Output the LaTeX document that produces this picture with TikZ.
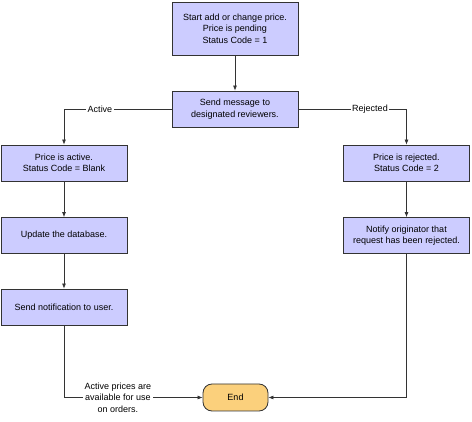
\documentclass[tikz,border=0pt]{standalone}
\usepackage{fontspec}
\setmainfont{Liberation Sans}
\usetikzlibrary{arrows.meta}

\definecolor{boxfill}{HTML}{CCCCFF}
\definecolor{endfill}{HTML}{FBD07C}
\definecolor{linecol}{HTML}{333333}

\begin{document}
\begin{tikzpicture}[x=1pt, y=-1pt,
    font=\fontsize{9}{11.5}\selectfont,
    stepbox/.style={rectangle, draw=linecol, fill=boxfill, line width=0.8pt, minimum width=126pt, minimum height=36pt, align=center, inner sep=2pt},
    endbox/.style={rectangle, rounded corners=9pt, draw=linecol, fill=endfill, line width=0.8pt, minimum width=65pt, minimum height=27pt},
    flow/.style={draw=linecol, line width=0.7pt, -{Latex[length=5pt, width=4pt]}},
    lbl/.style={fill=white, inner sep=1.5pt, align=center}]
    \useasboundingbox (0, 0) rectangle (472, 422);
    \node[stepbox, minimum height=53pt] (start) at (235, 28.5) {Start add or change price.\\Price is pending\\Status Code = 1};
    \node[stepbox] (send) at (235, 109) {Send message to\\designated reviewers.};
    \node[stepbox] (active) at (64, 163) {Price is active.\\Status Code = Blank};
    \node[stepbox] (update) at (64, 235.5) {Update the database.};
    \node[stepbox] (notify) at (64, 307) {Send notification to user.};
    \node[stepbox] (rejected) at (406.5, 163) {Price is rejected.\\Status Code = 2};
    \node[stepbox] (inform) at (406.5, 235.5) {Notify originator that\\request has been rejected.};
    \node[endbox] (end) at (235.5, 397.5) {End};
    \draw[flow] (start) -- (send);
    \draw[flow] (send.west) -| (active.north);
    \draw[flow] (send.east) -| (rejected.north);
    \draw[flow] (active) -- (update);
    \draw[flow] (update) -- (notify);
    \draw[flow] (rejected) -- (inform);
    \draw[flow] (notify.south) |- (end.west);
    \draw[flow] (inform.south) |- (end.east);
    \node[lbl] (activelbl) at (100, 109) {Active};
    \node[lbl] (rejectedlbl) at (370, 109) {Rejected};
    \node[lbl] (ordlbl) at (118, 397.5) {Active prices are\\available for use\\on orders.};
\end{tikzpicture}
\end{document}
